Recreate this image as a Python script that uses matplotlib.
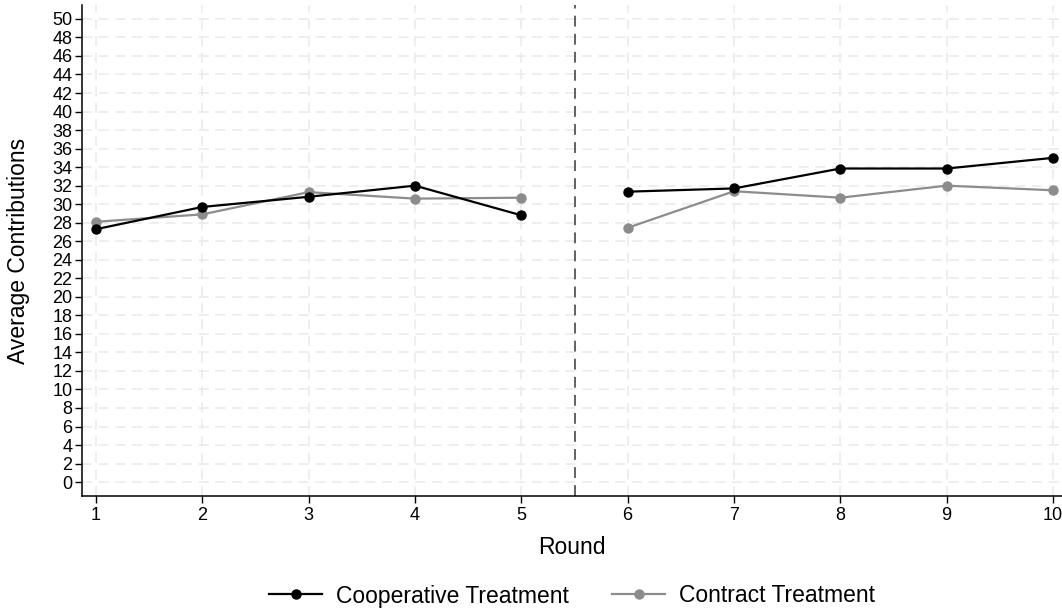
import matplotlib
matplotlib.use("Agg")
import matplotlib.pyplot as plt

rounds = [1, 2, 3, 4, 5, 6, 7, 8, 9, 10]
coop = [27.3, 29.7, 30.8, 32.0, 28.8, 31.35, 31.7, 33.85, 33.85, 35.0]
contract = [28.1, 28.9, 31.3, 30.6, 30.7, 27.45, 31.4, 30.7, 32.0, 31.5]
yticks = list(range(0, 51, 2))

plt.rcParams['font.family'] = ['Liberation Sans', 'DejaVu Sans']

fig = plt.figure(figsize=(10.62, 6.10), dpi=100)
ax = fig.add_axes([82/1062, 114/610, 1 - 82/1062, (496-5)/610])

for x in rounds:
    ax.axvline(x, color='#ebebeb', lw=1.2, ls=(0, (6, 4)), zorder=0)
for y in yticks:
    ax.axhline(y, color='#ebebeb', lw=1.2, ls=(0, (6, 4)), zorder=0)

ax.axvline(5.5, color='#555555', lw=1.3, ls=(0, (6, 4)), zorder=1)

ax.plot(rounds[:5], coop[:5], color='black', marker='o', ms=6.5, lw=1.6, zorder=3,
        label='Cooperative Treatment')
ax.plot(rounds[5:], coop[5:], color='black', marker='o', ms=6.5, lw=1.6, zorder=3)
ax.plot(rounds[:5], contract[:5], color='#8c8c8c', marker='o', ms=6.5, lw=1.6, zorder=2,
        label='Contract Treatment')
ax.plot(rounds[5:], contract[5:], color='#8c8c8c', marker='o', ms=6.5, lw=1.6, zorder=2)

ax.set_xlim(1 - 14/106.3, 10 + 9/106.3)
ax.set_ylim(-1.5, 51.5)
ax.set_xticks(rounds)
ax.set_yticks(yticks)
ax.tick_params(axis='both', labelsize=13, length=5, width=1, direction='out', colors='black')
ax.tick_params(axis='x', pad=3)
ax.tick_params(axis='y', pad=2)
for s in ['top', 'right']:
    ax.spines[s].set_visible(False)
for s in ['left', 'bottom']:
    ax.spines[s].set_linewidth(1.1)

ax.set_xlabel('Round', fontsize=16.5, va='center')
ax.xaxis.set_label_coords(0.5, -(548 - 496) / 491)
ax.set_ylabel('Average Contributions', fontsize=16.5, va='center')
ax.yaxis.set_label_coords((19 - 82) / 980, 0.5)

ax.legend(loc='center', bbox_to_anchor=(0.5, -(596 - 496) / 491), ncol=2, frameon=False,
          fontsize=16.5, handlelength=2.3, columnspacing=1.9, handletextpad=0.6)

fig.savefig('out.png', dpi=100)
